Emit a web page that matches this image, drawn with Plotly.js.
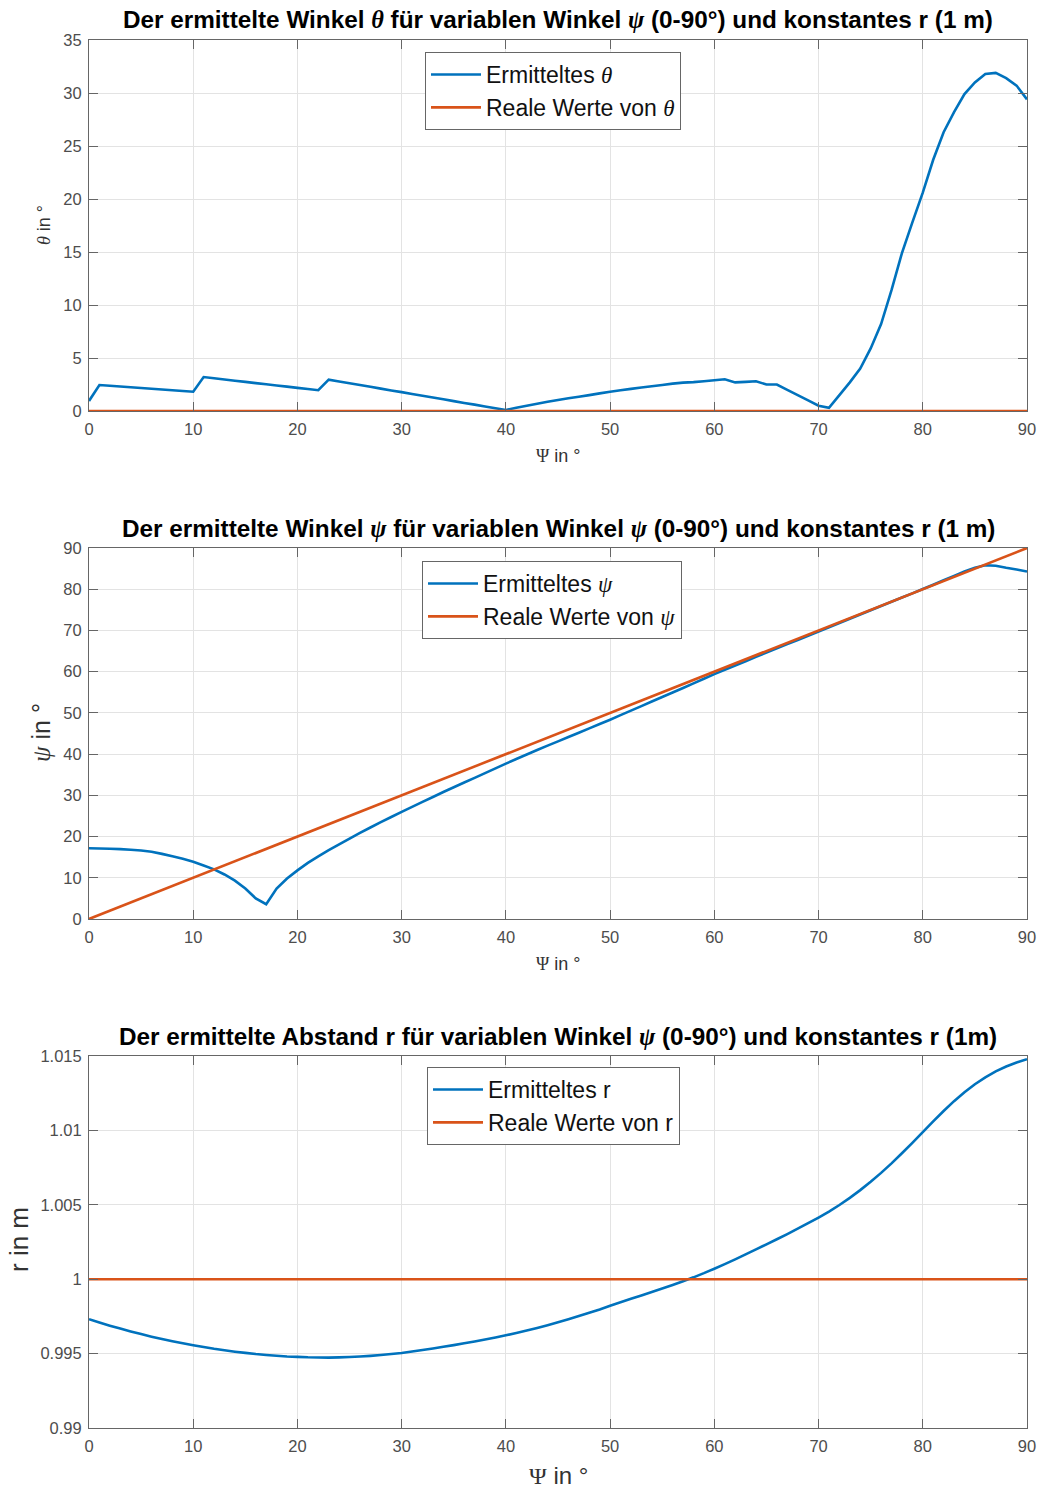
<!DOCTYPE html>
<html>
<head>
<meta charset="utf-8">
<script src="https://cdn.plot.ly/plotly-3.0.1.min.js"></script>
<style>html,body{margin:0;padding:0;background:#fff;}#chart{width:1042px;height:1488px;}</style>
</head>
<body>
<div id="chart"></div>
<script>
// Psi values (x axis), degrees
const psiDeg = [0,1,2,3,4,5,6,7,8,9,10,11,12,13,14,15,16,17,18,19,20,21,22,23,24,25,26,27,28,29,30,31,32,33,34,35,36,37,38,39,40,41,42,43,44,45,46,47,48,49,50,51,52,53,54,55,56,57,58,59,60,61,62,63,64,65,66,67,68,69,70,71,72,73,74,75,76,77,78,79,80,81,82,83,84,85,86,87,88,89,90];

// Determined theta (deg)
const thetaEst = [0.95,2.45,2.38,2.31,2.24,2.17,2.10,2.03,1.96,1.89,1.82,3.20,3.09,2.97,2.86,2.75,2.63,2.52,2.41,2.30,2.18,2.07,1.96,2.96,2.79,2.62,2.45,2.28,2.11,1.94,1.78,1.61,1.44,1.27,1.10,0.93,0.76,0.60,0.43,0.26,0.10,0.30,0.50,0.69,0.87,1.04,1.20,1.35,1.50,1.66,1.82,1.96,2.09,2.22,2.34,2.46,2.58,2.68,2.72,2.80,2.90,3.00,2.70,2.75,2.80,2.50,2.50,2.00,1.50,1.00,0.50,0.30,1.50,2.70,4.00,5.90,8.20,11.40,14.90,17.80,20.60,23.70,26.30,28.20,29.90,31.00,31.80,31.90,31.40,30.70,29.40];

// Determined psi (deg)
const psiEst = [17.15,17.12,17.05,16.95,16.80,16.60,16.30,15.80,15.20,14.60,13.90,13.00,12.05,10.80,9.30,7.40,5.00,3.60,7.40,9.80,11.80,13.60,15.20,16.70,18.10,19.50,20.90,22.20,23.50,24.75,26.00,27.20,28.40,29.60,30.80,31.95,33.10,34.25,35.40,36.55,37.70,38.80,39.90,41.00,42.05,43.10,44.15,45.20,46.25,47.30,48.35,49.45,50.55,51.65,52.75,53.85,54.95,56.05,57.15,58.28,59.40,60.45,61.50,62.54,63.58,64.61,65.64,66.67,67.70,68.72,69.75,70.78,71.80,72.83,73.86,74.89,75.92,76.95,77.98,79.00,80.05,81.10,82.18,83.25,84.30,85.20,85.80,85.70,85.20,84.80,84.30];

// Determined r (m)
const rEst = [0.99731,0.99709,0.99688,0.99668,0.99649,0.99631,0.99614,0.99598,0.99583,0.99569,0.99556,0.99544,0.99532,0.99522,0.99513,0.99505,0.99497,0.99491,0.99486,0.99481,0.99478,0.99475,0.99474,0.99473,0.994745,0.99477,0.994805,0.99485,0.994905,0.99497,0.995045,0.99514,0.99524,0.995345,0.995455,0.99557,0.99569,0.995815,0.995945,0.996085,0.99623,0.996385,0.99655,0.996725,0.99691,0.997105,0.99731,0.997525,0.997745,0.99797,0.99822,0.99845,0.99868,0.99891,0.99914,0.999375,0.999615,0.999865,1.000125,1.000405,1.000705,1.001015,1.001335,1.001665,1.00200,1.00234,1.002685,1.003035,1.003395,1.003765,1.004145,1.004545,1.004985,1.005465,1.005985,1.006545,1.007145,1.007785,1.008465,1.009165,1.009885,1.010605,1.011305,1.011965,1.012565,1.013105,1.013565,1.013965,1.014295,1.014565,1.014785];

// Real values (reference lines)
const realX = [0, 90];
const realTheta = [0, 0];
const realPsi = [0, 90];
const realR = [1, 1];

// Tick definitions
const xTicks = [0,10,20,30,40,50,60,70,80,90];
const yTicks1 = [0,5,10,15,20,25,30,35];
const yTicks2 = [0,10,20,30,40,50,60,70,80,90];
const yTicks3 = [0.99,0.995,1,1.005,1.01,1.015];
const yTickText3 = ['0.99','0.995','1','1.005','1.01','1.015'];

const BLUE = '#0072BD', ORANGE = '#D95319';
const SANS = 'Liberation Sans, Arial, Helvetica, sans-serif';
const sym = s => '<span style="font-family:\'Liberation Serif\',\'DejaVu Serif\',serif;font-style:italic">' + s + '</span>';
const serifUp = s => '<span style="font-family:\'Liberation Serif\',\'DejaVu Serif\',serif">' + s + '</span>';

const LW = 2.6;
function ln(color){ return {color:color, width:LW, simplify:false}; }
const traces = [
  {x: psiDeg, y: thetaEst, mode:'lines', line:ln(BLUE), name:'Ermitteltes ' + sym('θ'), xaxis:'x', yaxis:'y', legend:'legend'},
  {x: realX, y: realTheta, mode:'lines', line:ln(ORANGE), name:'Reale Werte von ' + sym('θ'), xaxis:'x', yaxis:'y', legend:'legend'},
  {x: psiDeg, y: psiEst, mode:'lines', line:ln(BLUE), name:'Ermitteltes ' + sym('ψ'), xaxis:'x2', yaxis:'y2', legend:'legend2'},
  {x: realX, y: realPsi, mode:'lines', line:ln(ORANGE), name:'Reale Werte von ' + sym('ψ'), xaxis:'x2', yaxis:'y2', legend:'legend2'},
  {x: psiDeg, y: rEst, mode:'lines', line:ln(BLUE), name:'Ermitteltes r', xaxis:'x3', yaxis:'y3', legend:'legend3'},
  {x: realX, y: realR, mode:'lines', line:ln(ORANGE), name:'Reale Werte von r', xaxis:'x3', yaxis:'y3', legend:'legend3'}
];

const axBase = {
  showline:true, linecolor:'#666666', linewidth:1, mirror:'ticks',
  ticks:'inside', ticklen:9, tickcolor:'#666666', tickwidth:1,
  showgrid:true, gridcolor:'#e3e3e3', gridwidth:1, zeroline:false,
  tickfont:{family:SANS, size:16.5, color:'#4d4d4d'}, fixedrange:true,
  ticklabelstandoff:3
};
function xax(anchor){ return Object.assign({}, axBase, {range:[0,90], tickmode:'array', tickvals:xTicks, anchor:anchor, domain:[0,1]}); }

const legBase = {bgcolor:'#ffffff', bordercolor:'#666666', borderwidth:1, xanchor:'left', yanchor:'top',
  font:{family:SANS, size:23, color:'#111'}, itemwidth:50, tracegroupgap:0};

const H = 1388; // plot paper height
const py = p => (1428 - p)/H;
const px = p => (p - 89)/938;

function ann(text, x, y, size, angle, bold){
  return {text: text, xref:'paper', yref:'paper', x:x, y:y, xanchor:'center', yanchor:'middle',
    showarrow:false, textangle: angle||0, font:{family:SANS, size:size, color: bold ? '#000' : '#333'}};
}

const layout = {
  width:1042, height:1488,
  margin:{l:89, r:15, t:40, b:60, pad:0},
  paper_bgcolor:'#ffffff', plot_bgcolor:'#ffffff',
  showlegend:true,
  xaxis: xax('y'),
  yaxis: Object.assign({}, axBase, {range:[0,35], tickmode:'array', tickvals:yTicks1, domain:[py(411),1], anchor:'x'}),
  xaxis2: xax('y2'),
  yaxis2: Object.assign({}, axBase, {range:[0,90], tickmode:'array', tickvals:yTicks2, domain:[py(919),py(548)], anchor:'x2'}),
  xaxis3: xax('y3'),
  yaxis3: Object.assign({}, axBase, {range:[0.99,1.015], tickmode:'array', tickvals:yTicks3, ticktext:yTickText3, domain:[0,py(1056)], anchor:'x3'}),
  legend: Object.assign({}, legBase, {x:px(425), y:py(52)}),
  legend2: Object.assign({}, legBase, {x:px(422), y:py(561)}),
  legend3: Object.assign({}, legBase, {x:px(427), y:py(1067)}),
  annotations: [
    ann('<b>Der ermittelte Winkel ' + sym('θ') + ' für variablen Winkel ' + sym('ψ') + ' (0-90°) und konstantes r (1 m)</b>', 0.5, py(20), 24.3, 0, true),
    ann('<b>Der ermittelte Winkel ' + sym('ψ') + ' für variablen Winkel ' + sym('ψ') + ' (0-90°) und konstantes r (1 m)</b>', 0.5, py(528), 24.3, 0, true),
    ann('<b>Der ermittelte Abstand r für variablen Winkel ' + sym('ψ') + ' (0-90°) und konstantes r (1m)</b>', 0.5, py(1036), 24.3, 0, true),
    ann(serifUp('Ψ') + ' in °', 0.5, py(456), 18),
    ann(serifUp('Ψ') + ' in °', 0.5, py(964), 18),
    ann(serifUp('Ψ') + ' in °', 0.5, py(1475), 24),
    ann(sym('θ') + ' in °', px(44), py(225), 18, -90),
    ann(sym('ψ') + ' in °', px(41), py(733), 25, -90),
    ann('r in m', px(19), py(1240), 26, -90)
  ]
};

Plotly.newPlot('chart', traces, layout, {staticPlot:true, displayModeBar:false});
</script>
</body>
</html>
